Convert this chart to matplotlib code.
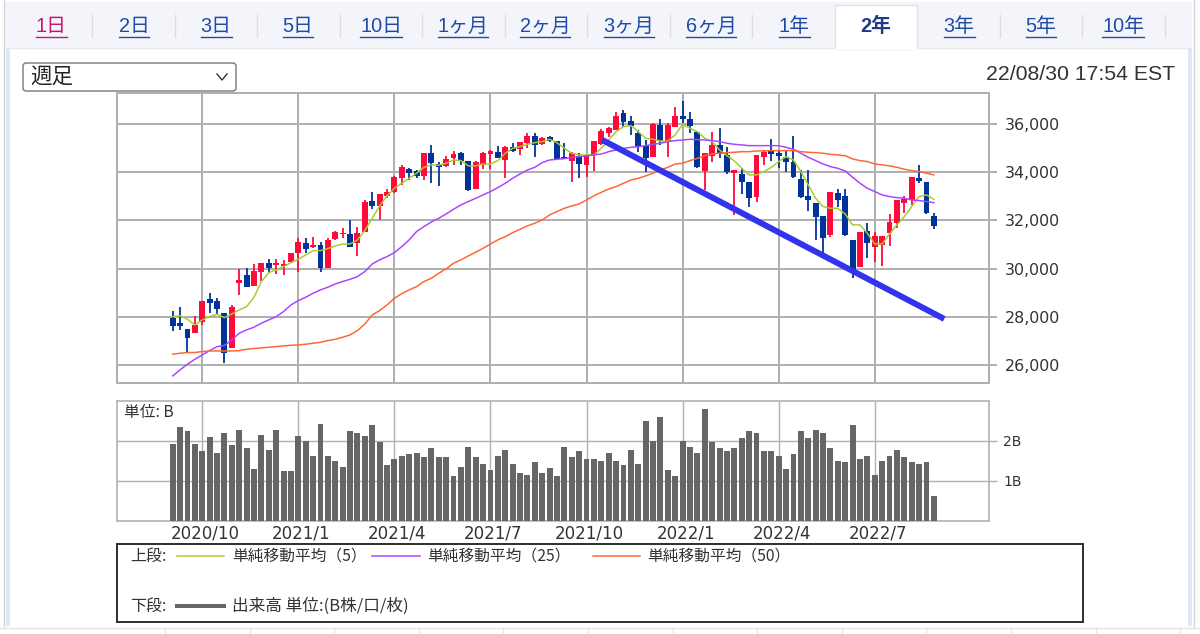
import matplotlib
matplotlib.use("Agg")
import matplotlib.pyplot as plt
from matplotlib.patches import Rectangle, FancyBboxPatch

# weekly candles
opens = [27940,27730,27480,27315,27800,28725,28655,28170,26690,29415,29720,29295,29875,30245,30135,30125,30275,30635,31050,30885,30980,30025,31215,31435,31435,31075,31535,32820,32610,33025,33165,33745,34145,34050,33845,34810,34340,34260,34575,34810,34480,33305,34315,34755,34850,34505,35030,34950,35200,35500,35155,35475,35310,34645,34465,34675,34300,34715,35170,35640,35750,36470,36140,35640,35090,34645,35960,35310,35890,36330,36195,35680,34050,34675,35130,34715,33955,33910,33580,32985,34645,34880,34810,34645,34440,33720,33015,32710,32185,31395,33125,33015,31190,30055,31560,30885,30980,31465,31880,32710,32845,33775,33580,32185]
closes = [27620,27620,27110,27660,28655,28585,28325,26485,28395,29530,29235,29915,30220,30025,30220,30190,30635,31120,30815,30980,30010,31190,31505,31490,30885,31490,32780,32600,33080,33165,33790,34230,33980,33855,34810,34370,34200,34550,34755,34465,33260,34440,34810,34865,34605,35060,34880,35240,35500,35130,35420,35310,34535,34535,34785,34325,34675,35310,35725,35820,36345,36095,35915,35060,34575,36000,35310,35960,36330,36195,35915,34230,34785,35130,34740,34025,34090,33610,32915,34715,34850,34755,34685,34440,33790,32960,32845,32155,31255,33195,32845,31395,29945,31505,31075,31365,31365,31950,32845,32875,33790,33650,32295,31770]
highs = [28255,28395,27480,28050,28655,28975,28765,28170,28490,29985,30010,30190,30220,30385,30385,30360,30660,31255,31255,31325,31120,31255,31575,31670,32015,31715,32845,33195,33080,33305,33845,34300,34160,34090,34810,35130,34440,34685,34880,34850,34480,34480,34850,34920,35090,35090,35225,35265,35640,35640,35475,35500,35310,35200,34850,34785,34715,35310,35780,35860,36510,36580,36330,35750,35335,36030,36195,36055,36690,36970,36510,35680,34785,35680,35820,35060,34090,34160,33580,34715,34920,35365,34920,34920,35500,34090,34090,32735,32185,33195,33290,33290,31190,31535,31880,31535,31365,32265,32845,33015,33790,34300,33580,32320]
lows = [27425,27455,26525,27315,27660,28145,28115,26100,26690,28905,29235,29295,29485,29805,29775,29735,30275,29875,30635,30840,29875,30025,31190,31255,30885,30525,31535,32475,32015,32915,33125,33470,33675,33745,33675,33540,33430,34230,34300,34300,33235,33305,34135,34120,34605,33745,34825,34715,34990,34645,35130,35265,34505,34535,33610,33745,33790,34050,35130,35445,35750,35860,35545,34850,34025,34645,35130,34645,35890,36030,35615,34160,33260,34440,34575,33925,32225,33095,32545,32780,34300,34480,34160,34025,33745,32915,32405,31190,30635,31325,32545,31365,29595,30055,30425,30290,30110,30940,31700,32320,32640,33540,32265,31630]

# moving averages, one reading per week
ma5 = [28005,28035,27895,27660,27870,28005,28105,27965,28115,28285,28420,28810,29460,29830,29945,30080,30245,30385,30565,30745,30745,30830,30940,31020,31020,31190,31575,32085,32600,33015,33330,33540,33745,33955,34200,34300,34285,34370,34505,34480,34260,34260,34340,34340,34480,34785,34990,35060,35155,35225,35265,35365,35225,34990,34785,34715,34715,34715,34990,35335,35680,35890,35930,35680,35405,35365,35295,35295,35545,35985,35820,35680,35405,35265,34920,34685,34465,34160,33885,33885,34025,34200,34440,34645,34505,34025,33470,32915,32570,32500,32500,32265,31810,31810,31465,31020,31020,31435,31810,32155,32570,32985,33055,32875]
ma25 = [25545,25795,26030,26235,26415,26595,26760,26805,27040,27315,27455,27565,27730,27870,28005,28215,28490,28670,28810,28975,29115,29225,29360,29460,29555,29665,29875,30190,30360,30495,30660,30910,31190,31535,31740,31935,32085,32265,32460,32640,32780,32915,33055,33195,33360,33540,33745,33925,34090,34200,34395,34505,34535,34560,34605,34645,34675,34715,34755,34850,34920,34990,35030,35060,35100,35155,35200,35265,35310,35335,35365,35350,35335,35310,35265,35200,35155,35130,35100,35100,35100,35100,35100,35030,34950,34785,34615,34480,34340,34230,34160,34050,33790,33540,33330,33195,33055,32985,32945,32915,32845,32820,32780,32735]
ma50 = [26445,26485,26515,26515,26555,26580,26580,26580,26580,26595,26650,26680,26705,26735,26760,26790,26815,26830,26860,26900,26940,27010,27065,27150,27245,27425,27700,28075,28255,28490,28765,28960,29115,29250,29460,29595,29805,29985,30220,30360,30525,30675,30840,31020,31190,31325,31490,31630,31770,31880,32015,32225,32365,32500,32600,32680,32845,33015,33165,33305,33400,33540,33675,33745,33845,33955,34090,34200,34340,34370,34480,34575,34685,34755,34785,34810,34825,34850,34850,34880,34880,34895,34895,34895,34895,34850,34825,34810,34785,34740,34715,34685,34550,34480,34440,34340,34300,34260,34200,34120,34065,34025,33955,33885]

# volume in B
volumes = [1.92,2.35,2.24,1.92,1.74,2.09,1.70,2.20,1.89,2.28,1.82,1.31,2.16,1.78,2.28,1.24,1.24,2.13,2.01,1.62,2.43,1.62,1.51,1.36,2.24,2.20,2.13,2.39,1.97,1.39,1.55,1.62,1.67,1.70,1.59,1.82,1.59,1.59,1.13,1.36,1.86,1.59,1.43,1.28,1.62,1.77,1.43,1.21,1.16,1.47,1.21,1.32,1.13,1.86,1.59,1.74,1.55,1.55,1.51,1.70,1.51,1.40,1.78,1.43,2.51,2.01,2.59,1.28,1.13,2.01,1.86,1.70,2.81,1.97,1.82,1.74,1.82,2.08,2.24,2.20,1.74,1.74,1.62,1.31,1.67,2.24,2.08,2.28,2.20,1.82,1.51,1.47,2.39,1.55,1.62,1.16,1.51,1.62,1.77,1.59,1.47,1.43,1.47,0.63]

month_pos = [4, 17, 30, 43, 56, 69, 82, 95]
month_labels = ["2020/10", "2021/1", "2021/4", "2021/7", "2021/10", "2022/1", "2022/4", "2022/7"]
price_ticks = [26000, 28000, 30000, 32000, 34000, 36000]
volume_ticks = [1, 2]
volume_tick_labels = ["1B", "2B"]
trend_x = [58.1, 104.4]
trend_y = [35340, 27910]
tab_labels = ["1日", "2日", "3日", "5日", "10日", "1ヶ月", "2ヶ月", "3ヶ月", "6ヶ月", "1年", "2年", "3年", "5年", "10年"]
tab_x = [51, 134, 216, 298, 381, 463, 545, 629, 711, 794, 876, 959, 1041, 1123]

W, H = 1200, 634
JP = ["Noto Sans CJK JP", "DejaVu Sans"]
TAB_FONT = ["Liberation Sans", "Noto Sans CJK JP"]
RED = "#ff0a3c"
BLUE = "#003399"
GRID = "#b0b0b0"
TEXT = "#333333"
PX = 0.72

fig = plt.figure(figsize=(12, 6.34), dpi=100, facecolor="white")


def px_axes(left, top, right, bottom):
    return fig.add_axes([left / W, 1 - bottom / H, (right - left) / W, (bottom - top) / H])


# page around the charts, in pixels
page = fig.add_axes([0, 0, 1, 1], zorder=0)
page.set_xlim(0, W)
page.set_ylim(H, 0)
page.axis("off")
page.add_patch(Rectangle((4, 2), 1188, 46, fc="#f3f5fb", ec="none"))
page.add_patch(Rectangle((6, 48), 4, 578, fc="#dfe7f7", ec="none"))
page.add_patch(Rectangle((1188, 48), 4, 578, fc="#dfe7f7", ec="none"))
page.plot([3.5, 3.5], [0, 626], color="#d4d4d4", lw=1)
page.plot([1194, 1194], [0, 626], color="#d4d4d4", lw=1)
page.plot([10, 1188], [48, 48], color="#e6e8ee", lw=1)
page.plot([0, W], [628, 628], color="#e4e4e4", lw=1)
for k in range(13):
    page.plot([165 + 84.6 * k] * 2, [628, 634], color="#e4e4e4", lw=1)
page.add_patch(Rectangle((835, 5), 82, 44, fc="white", ec="#dfe2ea", lw=1))
page.plot([836, 916], [48, 48], color="white", lw=2)

for sep in [92, 175, 257, 340, 422, 505, 587, 670, 752, 1000, 1082, 1165]:
    page.plot([sep, sep], [15, 37], color="#dcdee4", lw=1)

fig.canvas.draw()
renderer = fig.canvas.get_renderer()
for label, x in zip(tab_labels, tab_x):
    if label == "2年":
        page.text(x, 26, label, family=TAB_FONT, fontsize=14.3, weight="bold", color="#1f3c88", ha="center", va="center")
        continue
    colour = "#c8146e" if label == "1日" else "#1f4aa8"
    t = page.text(x, 26.5, label, family=TAB_FONT, fontsize=14.3, color=colour, ha="center", va="center")
    box = t.get_window_extent(renderer)
    page.plot([box.x0, box.x1], [36.5, 36.5], color=colour, lw=1)

# period selector
page.add_patch(FancyBboxPatch((25, 65), 209, 24, boxstyle="round,pad=2,rounding_size=3", fc="white", ec="#777777", lw=1))
page.text(30, 77, "週足", family=JP, fontsize=15.5, color="#222222", va="center")
page.plot([217, 222, 227], [74, 80, 74], color="#333333", lw=1)
page.text(1175, 75, "22/08/30 17:54 EST", family=TAB_FONT, fontsize=15.3, color=TEXT, ha="right", va="center")

# price panel
ax = px_axes(117, 93, 989, 383)
ax.set_zorder(1)
x_low = (117 - 172.7) / 7.39
x_high = (989 - 172.7) / 7.39
ax.set_xlim(x_low, x_high)
ax.set_ylim(25250, 37285)
ax.set_axisbelow(True)
ax.grid(True, color=GRID, lw=2 * PX)
ax.set_xticks(month_pos)
ax.set_yticks(price_ticks)
ax.set_yticklabels([f"{v:,}" for v in price_ticks], fontsize=11.4, color=TEXT)
ax.tick_params(axis="x", length=0, labelbottom=False)
ax.yaxis.tick_right()
ax.tick_params(axis="y", length=8 * PX, width=2 * PX, color=GRID, pad=5.5)
for spine in ax.spines.values():
    spine.set_color(GRID)
    spine.set_linewidth(2 * PX)

for i in range(len(opens)):
    colour = RED if closes[i] >= opens[i] else BLUE
    ax.vlines(i, lows[i], highs[i], color=colour, lw=1.8 * PX, zorder=3)
    ax.bar(i, abs(closes[i] - opens[i]), bottom=min(opens[i], closes[i]), width=0.8, color=colour, zorder=3)

weeks = list(range(len(ma5)))
ax.plot(weeks, ma5, color="#a8cc2c", lw=1.5 * PX, zorder=4)
ax.plot(weeks, ma25, color="#aa44ff", lw=1.5 * PX, zorder=4)
ax.plot(weeks, ma50, color="#ff6633", lw=1.5 * PX, zorder=4)
ax.plot(trend_x, trend_y, color="#3333ee", lw=6 * PX, zorder=5, solid_capstyle="butt", clip_on=False)

# volume panel
vol = px_axes(117, 401, 989, 521)
vol.set_zorder(1)
vol.set_xlim(x_low, x_high)
vol.set_ylim(0, 3)
vol.set_axisbelow(True)
vol.grid(True, color=GRID, lw=1.4 * PX)
vol.bar(weeks, volumes, width=0.8, color="#666666", zorder=3)
vol.set_xticks(month_pos)
vol.set_xticklabels(month_labels, fontsize=12, color=TEXT)
for t in vol.get_xticklabels():
    t.set_x(t.get_position()[0])
vol.set_yticks(volume_ticks)
vol.set_yticklabels(volume_tick_labels, fontsize=10, color=TEXT)
vol.yaxis.tick_right()
vol.tick_params(axis="x", length=0, pad=2.5)
vol.tick_params(axis="y", length=8 * PX, width=1.4 * PX, color=GRID, pad=4.5)
for spine in vol.spines.values():
    spine.set_color(GRID)
    spine.set_linewidth(1.6 * PX)
# the date labels sit a little right of their grid lines
offset = matplotlib.transforms.ScaledTranslation(3 / 100, 0, fig.dpi_scale_trans)
for t in vol.get_xticklabels():
    t.set_transform(t.get_transform() + offset)
vol.text(124, 412, "単位: B", family=JP, fontsize=11.3, color=TEXT, va="center", transform=page.transData, zorder=6)

# legend box
leg = px_axes(117, 544, 1083, 622)
leg.set_xlim(117, 1083)
leg.set_ylim(622, 544)
leg.set_xticks([])
leg.set_yticks([])
for spine in leg.spines.values():
    spine.set_color("#333333")
    spine.set_linewidth(2 * PX)
leg.text(130, 556, "上段:", family=JP, fontsize=11.5, color=TEXT, va="center")
leg.plot([177, 224], [556, 556], color="#a8cc2c", lw=1.5 * PX)
leg.text(232, 556, "単純移動平均（5）", family=JP, fontsize=11.3, color=TEXT, va="center")
leg.plot([372, 420], [556, 556], color="#aa44ff", lw=1.5 * PX)
leg.text(427, 556, "単純移動平均（25）", family=JP, fontsize=11.3, color=TEXT, va="center")
leg.plot([593, 640], [556, 556], color="#ff6633", lw=1.5 * PX)
leg.text(647, 556, "単純移動平均（50）", family=JP, fontsize=11.3, color=TEXT, va="center")
leg.text(130, 606, "下段:", family=JP, fontsize=11.5, color=TEXT, va="center")
leg.plot([177, 224], [606, 606], color="#666666", lw=4 * PX)
leg.text(232, 606, "出来高 単位:(B株/口/枚)", family=JP, fontsize=12, color=TEXT, va="center")

fig.savefig("out.png", dpi=100)
